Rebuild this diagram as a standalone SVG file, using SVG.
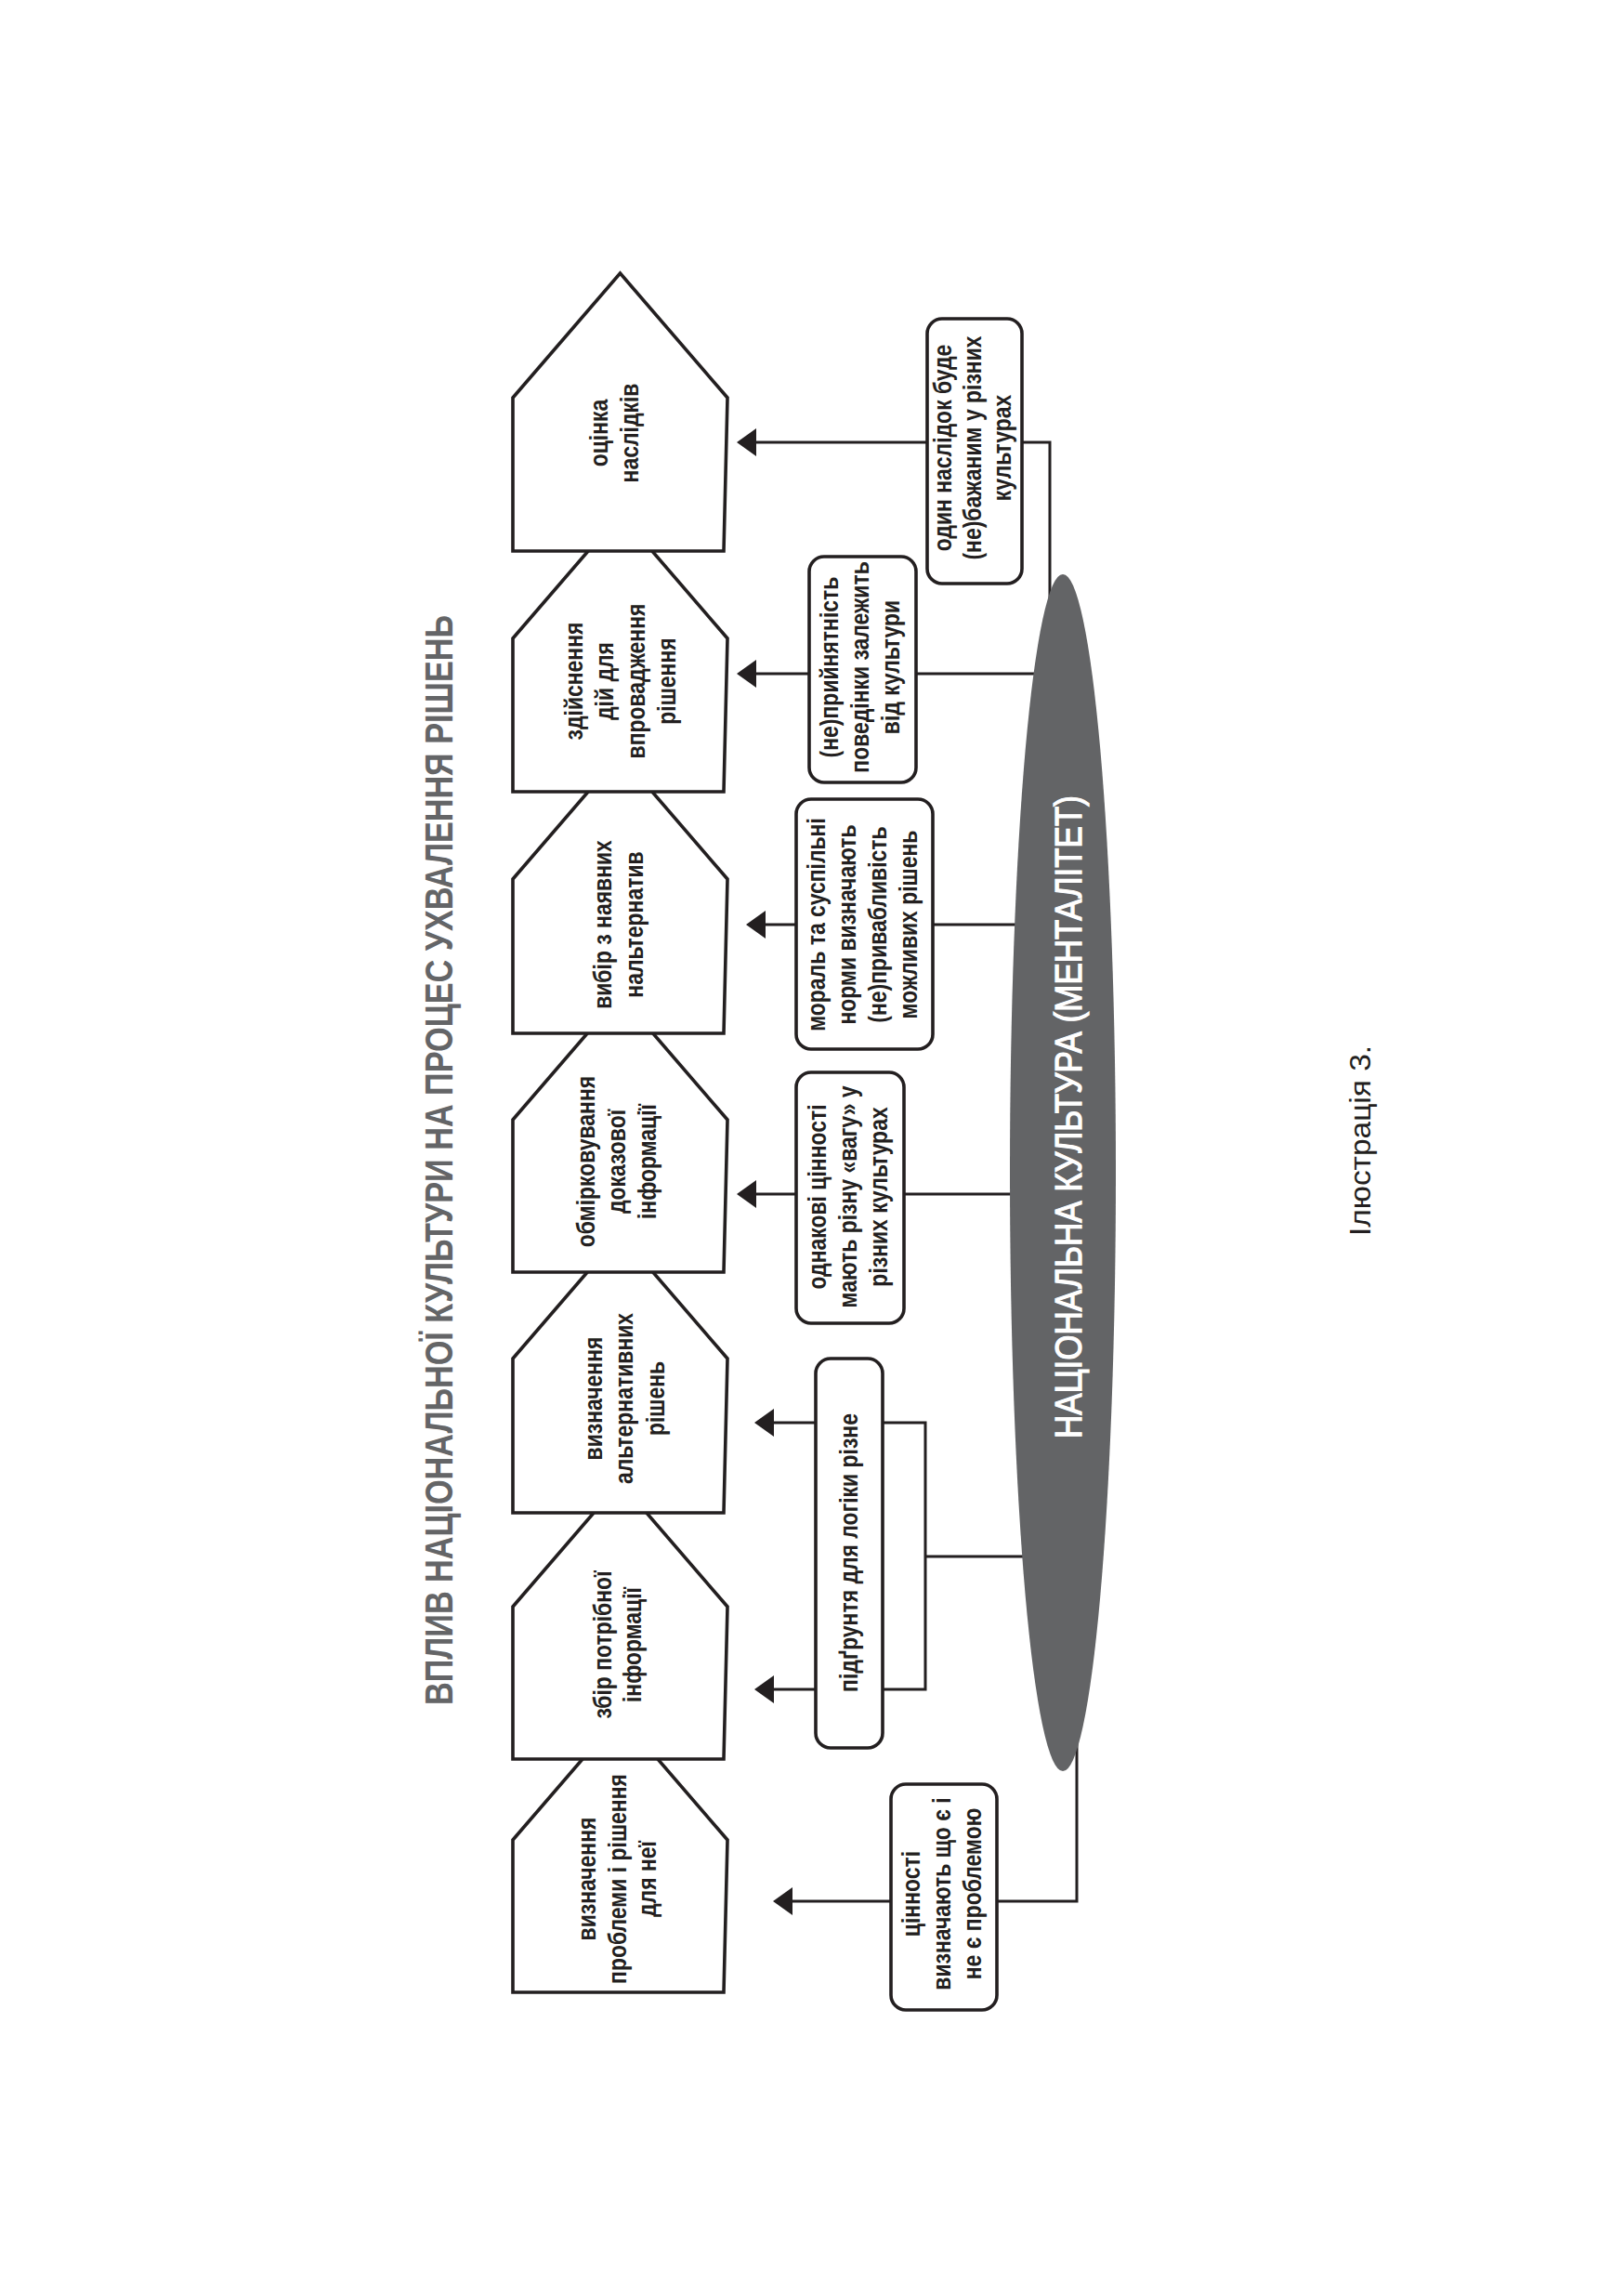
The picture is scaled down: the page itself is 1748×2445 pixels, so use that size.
<svg xmlns="http://www.w3.org/2000/svg" width="1748" height="2445" viewBox="0 0 1748 2445">
<defs>
<style>
.pent{fill:#fff;stroke:#231f20;stroke-width:3.6;stroke-linejoin:miter}
.box{fill:#fff;stroke:#231f20;stroke-width:3.6}
.con{fill:none;stroke:#231f20;stroke-width:3}
.nt{font-family:"Liberation Sans",Arial,sans-serif;font-weight:bold;font-size:27px;fill:#231f20;text-anchor:middle}
.title{font-family:"Liberation Sans",Arial,sans-serif;font-weight:bold;font-size:42px;fill:#646567;text-anchor:middle}
.ell{font-family:"Liberation Sans",Arial,sans-serif;font-size:40px;fill:#fff;stroke:#fff;stroke-width:1.2;text-anchor:middle}
.cap{font-family:"Liberation Sans",Arial,sans-serif;font-size:32px;fill:#231f20;text-anchor:middle}
</style>
<marker id="ah" markerUnits="userSpaceOnUse" markerWidth="22" markerHeight="32" viewBox="0 -16 22 32" refX="0" refY="0" orient="auto"><path d="M0,-15 L21,0 L0,15 z" fill="#231f20"/></marker>
</defs>
<rect width="1748" height="2445" fill="#fff"/>

<g id="title"><text class="title" transform="translate(487 1248.5) rotate(-90)" textLength="1173" lengthAdjust="spacingAndGlyphs">ВПЛИВ НАЦІОНАЛЬНОЇ КУЛЬТУРИ НА ПРОЦЕС УХВАЛЕННЯ РІШЕНЬ</text></g>

<g id="connectors">
<path class="con" d="M998,476 H814" marker-end="url(#ah)"/>
<path class="con" d="M1100,476 H1130 V650"/>
<path class="con" d="M871,725 H814" marker-end="url(#ah)"/>
<path class="con" d="M986,725 H1125"/>
<path class="con" d="M857,995 H824" marker-end="url(#ah)"/>
<path class="con" d="M1004,995 H1110"/>
<path class="con" d="M857,1285 H814" marker-end="url(#ah)"/>
<path class="con" d="M973,1285 H1105"/>
<path class="con" d="M878,1531 H833" marker-end="url(#ah)"/>
<path class="con" d="M878,1818 H833" marker-end="url(#ah)"/>
<path class="con" d="M950,1531 H996 V1818 H950"/>
<path class="con" d="M996,1675 H1110"/>
<path class="con" d="M959,2046 H853" marker-end="url(#ah)"/>
<path class="con" d="M1073,2046 H1159 V1870"/>
</g>

<g id="step7">
<path class="pent" d="M552,2144 V1980 L667.5,1846 L783,1980 L779,2144 Z"/>
<g class="nt" transform="translate(0 2022) rotate(-90) scale(0.85 1)"><text y="641">визначення</text><text y="674">проблеми і рішення</text><text y="706">для неї</text></g>
</g>
<g id="step6">
<path class="pent" d="M552,1893 V1729 L667.5,1595 L783,1729 L779,1893 Z"/>
<g class="nt" transform="translate(0 1770) rotate(-90) scale(0.85 1)"><text y="658">збір потрібної</text><text y="690">інформації</text></g>
</g>
<g id="step5">
<path class="pent" d="M552,1628 V1462 L667.5,1328 L783,1462 L779,1628 Z"/>
<g class="nt" transform="translate(0 1505) rotate(-90) scale(0.85 1)"><text y="648">визначення</text><text y="681">альтернативних</text><text y="715">рішень</text></g>
</g>
<g id="step4">
<path class="pent" d="M552,1369 V1205 L667.5,1071 L783,1205 L779,1369 Z"/>
<g class="nt" transform="translate(0 1250) rotate(-90) scale(0.85 1)"><text y="640">обмірковування</text><text y="673">доказової</text><text y="706">інформації</text></g>
</g>
<g id="step3">
<path class="pent" d="M552,1112 V946 L667.5,812 L783,946 L779,1112 Z"/>
<g class="nt" transform="translate(0 995) rotate(-90) scale(0.85 1)"><text y="658">вибір з наявних</text><text y="692">нальтернатив</text></g>
</g>
<g id="step2">
<path class="pent" d="M552,852 V687 L667.5,553 L783,687 L779,852 Z"/>
<g class="nt" transform="translate(0 733) rotate(-90) scale(0.85 1)"><text y="627">здійснення</text><text y="660">дій для</text><text y="694">впровадження</text><text y="727">рішення</text></g>
</g>
<g id="step1">
<path class="pent" d="M552,593 V428 L667.5,294 L783,428 L779,593 Z"/>
<g class="nt" transform="translate(0 466) rotate(-90) scale(0.85 1)"><text y="654">оцінка</text><text y="687">наслідків</text></g>
</g>

<g id="box1">
<rect class="box" x="998" y="343" width="102" height="285" rx="16"/>
<g class="nt" transform="translate(0 482) rotate(-90) scale(0.85 1)"><text y="1024">один наслідок буде</text><text y="1056">(не)бажаним у різних</text><text y="1088">культурах</text></g>
</g>
<g id="box2">
<rect class="box" x="871" y="599" width="115" height="243" rx="16"/>
<g class="nt" transform="translate(0 718) rotate(-90) scale(0.85 1)"><text y="902">(не)прийнятність</text><text y="935">поведінки залежить</text><text y="968">від культури</text></g>
</g>
<g id="box3">
<rect class="box" x="857" y="860" width="147" height="269" rx="16"/>
<g class="nt" transform="translate(0 995) rotate(-90) scale(0.85 1)"><text y="888">мораль та суспільні</text><text y="921">норми визначають</text><text y="954">(не)привабливість</text><text y="987">можливих рішень</text></g>
</g>
<g id="box4">
<rect class="box" x="857" y="1154" width="116" height="270" rx="16"/>
<g class="nt" transform="translate(0 1288) rotate(-90) scale(0.85 1)"><text y="889">однакові цінності</text><text y="922">мають різну «вагу» у</text><text y="955">різних культурах</text></g>
</g>
<g id="box5">
<rect class="box" x="878" y="1462" width="72" height="419" rx="16"/>
<g class="nt" transform="translate(0 1671) rotate(-90) scale(0.85 1)"><text y="923">підґрунтя для логіки різне</text></g>
</g>
<g id="box6">
<rect class="box" x="959" y="1920" width="114" height="243" rx="16"/>
<g class="nt" transform="translate(0 2038) rotate(-90) scale(0.85 1)"><text y="990">цінності</text><text y="1023">визначають що є і</text><text y="1056">не є проблемою</text></g>
</g>

<g id="culture">
<ellipse cx="1144" cy="1262" rx="57" ry="644" fill="#636466"/>
<text class="ell" transform="translate(1164 1202) rotate(-90)" textLength="692" lengthAdjust="spacingAndGlyphs">НАЦІОНАЛЬНА КУЛЬТУРА (МЕНТАЛІТЕТ)</text>
</g>

<g id="caption"><text class="cap" transform="translate(1475 1227.5) rotate(-90)" textLength="205" lengthAdjust="spacingAndGlyphs">Ілюстрація 3.</text></g>
</svg>
